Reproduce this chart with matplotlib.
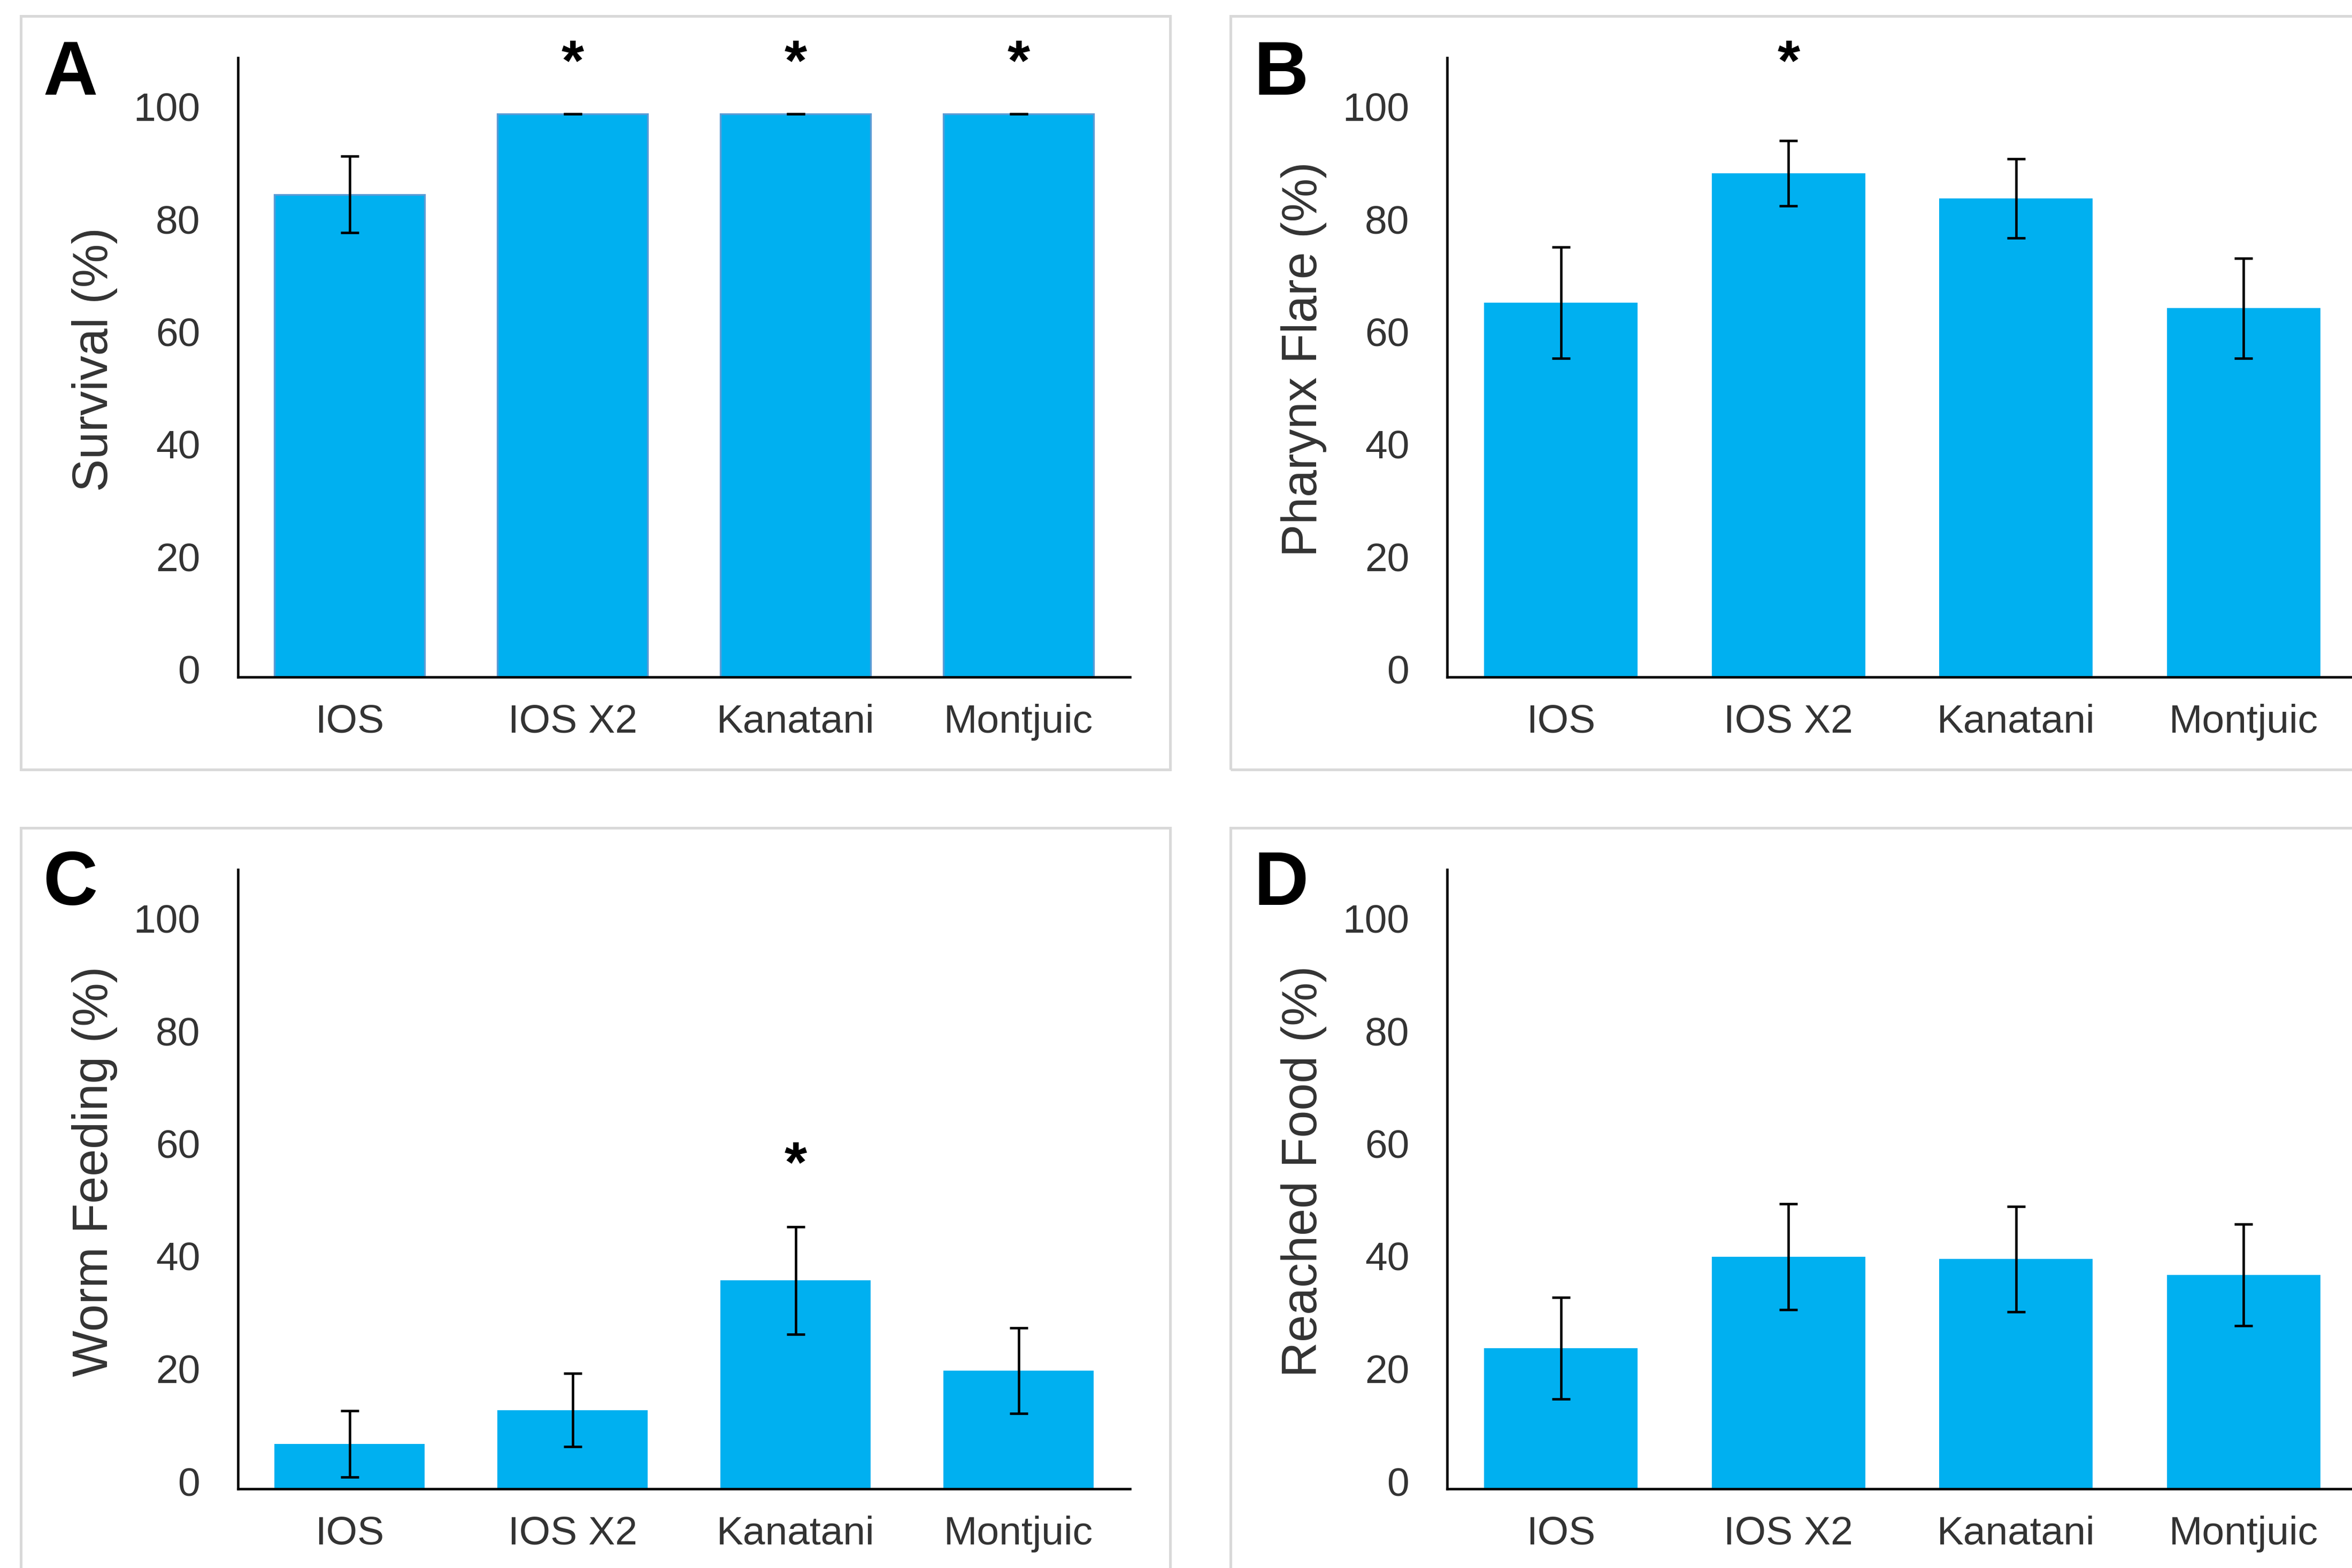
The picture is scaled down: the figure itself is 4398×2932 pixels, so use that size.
import matplotlib
matplotlib.use('Agg')
import matplotlib.pyplot as plt
import matplotlib.transforms as mtransforms
from matplotlib.patches import Rectangle

plt.rcParams['font.family'] = ['Liberation Sans', 'DejaVu Sans']

# data
strains = ['IOS', 'IOS X2', 'Kanatani', 'Montjuic']

survival = [85.7, 100, 100, 100]
survival_err = [6.8, 0, 0, 0]
survival_sig = [False, True, True, True]

pharynx = [66.5, 89.5, 85.0, 65.5]
pharynx_err = [9.9, 5.8, 7.0, 8.9]
pharynx_sig = [False, True, False, False]

feeding = [8.0, 14.0, 37.0, 21.0]
feeding_err = [5.9, 6.5, 9.5, 7.6]
feeding_sig = [False, False, True, False]

reached = [25.0, 41.2, 40.8, 38.0]
reached_err = [9.0, 9.4, 9.4, 9.0]
reached_sig = [False, False, False, False]

star_y = {'A': 112, 'B': 112, 'C': 60.5, 'D': 0}

W, H = 4398, 2932
DPI = 300
fig = plt.figure(figsize=(W / DPI, H / DPI), dpi=DPI)

bar_color = '#00B0F0'
text_color = '#333333'
frame_color = '#D9D9D9'


def px_rect(x0, y0, x1, y1):
    # pixel box (top-left origin) -> figure fraction [l, b, w, h]
    return [x0 / W, 1 - y1 / H, (x1 - x0) / W, (y1 - y0) / H]


panels = [
    ('A', 'Survival (%)', survival, survival_err, survival_sig,
     (445, 108, 2113, 1266), (39, 30, 2188, 1439), True),
    ('B', 'Pharynx Flare (%)', pharynx, pharynx_err, pharynx_sig,
     (2706, 108, 4408, 1266), (2301, 30, 4460, 1439), False),
    ('C', 'Worm Feeding (%)', feeding, feeding_err, feeding_sig,
     (445, 1626, 2113, 2784), (39, 1548, 2188, 3000), False),
    ('D', 'Reached Food (%)', reached, reached_err, reached_sig,
     (2706, 1626, 4408, 2784), (2301, 1548, 4460, 3000), False),
]

# Excel draws the value labels a little above their gridline position
ylab_shift = mtransforms.ScaledTranslation(0, 14 / DPI, fig.dpi_scale_trans)

for letter, ylabel, vals, errs, sig, axbox, frame, edged in panels:
    # light grey chart-area frame
    fl, fb, fw, fh = px_rect(*frame)
    fig.patches.append(Rectangle((fl, fb), fw, fh, transform=fig.transFigure,
                                 fill=False, edgecolor=frame_color, linewidth=1.2,
                                 zorder=0))

    ax = fig.add_axes(px_rect(*axbox))
    x = list(range(len(strains)))
    ax.bar(x, vals, width=0.675, color=bar_color,
           edgecolor='#5B9BD5' if edged else bar_color,
           linewidth=0.8 if edged else 0, zorder=2)
    ax.errorbar(x, vals, yerr=errs, fmt='none', ecolor='black',
                elinewidth=1.1, capsize=4, capthick=1.1, zorder=3)

    for xi, s in zip(x, sig):
        if s:
            ax.annotate('*', xy=(xi, star_y[letter]), xytext=(0, -0.58 * 26),
                        textcoords='offset points', ha='center', va='baseline',
                        fontsize=26, fontweight='bold', color='black',
                        annotation_clip=False)

    ax.set_xlim(-0.5, 3.5)
    ax.set_ylim(0, 110)
    ax.set_yticks([0, 20, 40, 60, 80, 100])
    ax.set_xticks(x)
    ax.set_xticklabels(strains)
    ax.tick_params(axis='both', length=0, labelsize=18, labelcolor=text_color)
    ax.tick_params(axis='y', pad=17)
    ax.tick_params(axis='x', pad=12)
    for lab in ax.get_yticklabels():
        lab.set_transform(lab.get_transform() + ylab_shift)
    for side in ['top', 'right']:
        ax.spines[side].set_visible(False)
    for side in ['left', 'bottom']:
        ax.spines[side].set_linewidth(1.1)
        ax.spines[side].set_color('black')

    # axis title and panel letter
    cx = axbox[0] - 268
    cy = (axbox[1] + axbox[3]) / 2 - 15
    fig.text(cx / W, 1 - cy / H, ylabel, rotation=90, ha='center', va='center',
             fontsize=22, color=text_color)
    lx = 80 if axbox[0] < 1000 else 2345
    ly = 177 if axbox[1] < 1000 else 1692
    fig.text(lx / W, 1 - ly / H, letter, ha='left', va='baseline',
             fontsize=34, fontweight='bold', color='black')

fig.savefig('out.png', dpi=DPI, facecolor='white')
